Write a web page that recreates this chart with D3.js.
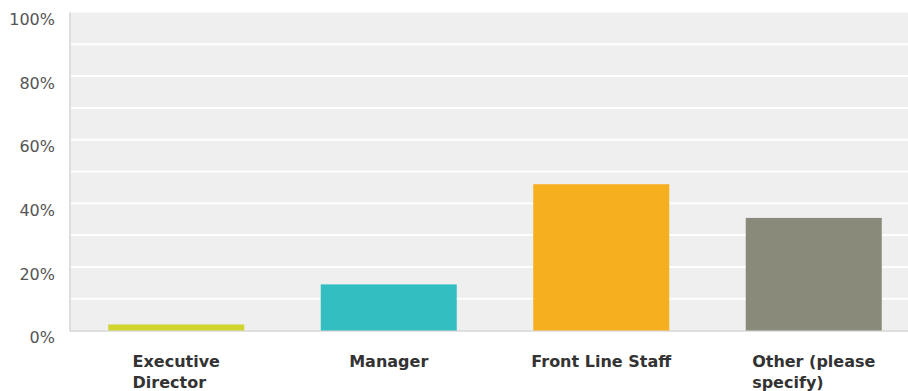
<!DOCTYPE html>
<html>
<head>
<meta charset="utf-8">
<script src="https://cdn.jsdelivr.net/npm/d3@7"></script>
<style>
  html, body { margin: 0; padding: 0; background: #fff; }
  svg { display: block; }
</style>
</head>
<body>
<svg id="chart" width="908" height="391"></svg>
<script>
// Survey responses by role (percent of respondents)
const categories = [["Executive", "Director"], ["Manager"], ["Front Line Staff"], ["Other (please", "specify)"]];
const values = [1.9, 14.5, 46.0, 35.4];
const colors = ["#cfd42f", "#33bec1", "#f6b01f", "#898a79"];
const yTicks = [0, 20, 40, 60, 80, 100];
const gridTicks = [10, 20, 30, 40, 50, 60, 70, 80, 90];

const svg = d3.select("#chart");
const plot = { left: 70, right: 920, top: 12.5, bottom: 330.5 };

const x = d3.scaleBand()
  .domain(d3.range(values.length))
  .range([plot.left, plot.right])
  .paddingInner(0.36)
  .paddingOuter(0.18);

const y = d3.scaleLinear().domain([0, 100]).range([plot.bottom, plot.top]);

// plot background
svg.append("rect")
  .attr("x", plot.left).attr("y", plot.top)
  .attr("width", plot.right - plot.left).attr("height", plot.bottom - plot.top)
  .attr("fill", "#efefef");

// horizontal grid
svg.append("g").selectAll("line")
  .data(gridTicks)
  .join("line")
  .attr("x1", plot.left).attr("x2", plot.right)
  .attr("y1", d => y(d)).attr("y2", d => y(d))
  .attr("stroke", "#ffffff")
  .attr("stroke-width", 2);

// axis frame lines
svg.append("line")
  .attr("x1", plot.left).attr("x2", plot.left)
  .attr("y1", plot.top).attr("y2", plot.bottom + 1)
  .attr("stroke", "#dddddd").attr("stroke-width", 2);
svg.append("line")
  .attr("x1", plot.left).attr("x2", plot.right)
  .attr("y1", plot.bottom + 0.5).attr("y2", plot.bottom + 0.5)
  .attr("stroke", "#d6d6d6").attr("stroke-width", 1.5);

// bars
svg.append("g").selectAll("rect")
  .data(values)
  .join("rect")
  .attr("x", (d, i) => x(i))
  .attr("width", x.bandwidth())
  .attr("y", d => y(d))
  .attr("height", d => y(0) - y(d))
  .attr("fill", (d, i) => colors[i]);

// y axis labels
svg.append("g").selectAll("text")
  .data(yTicks)
  .join("text")
  .attr("x", 55)
  .attr("y", d => y(d) + 7)
  .attr("dy", "0.35em")
  .attr("text-anchor", "end")
  .attr("font-family", "'DejaVu Sans', Verdana, sans-serif")
  .attr("font-size", "16px")
  .attr("fill", "#555555")
  .text(d => d + "%");

// category labels: lines left-aligned, block centred under each bar
const labelGroups = svg.append("g").selectAll("g")
  .data(categories)
  .join("g");

labelGroups.each(function(lines, i) {
  const g = d3.select(this);
  const texts = g.selectAll("text")
    .data(lines)
    .join("text")
    .attr("y", (d, j) => 367 + j * 20.5)
    .attr("font-family", "'DejaVu Sans', Verdana, sans-serif")
    .attr("font-weight", "bold")
    .attr("font-size", "16px")
    .attr("fill", "#333333")
    .text(d => d);
  let maxW = 0;
  texts.each(function() { maxW = Math.max(maxW, this.getComputedTextLength()); });
  const cx = x(i) + x.bandwidth() / 2;
  texts.attr("x", cx - maxW / 2);
});
</script>
</body>
</html>
